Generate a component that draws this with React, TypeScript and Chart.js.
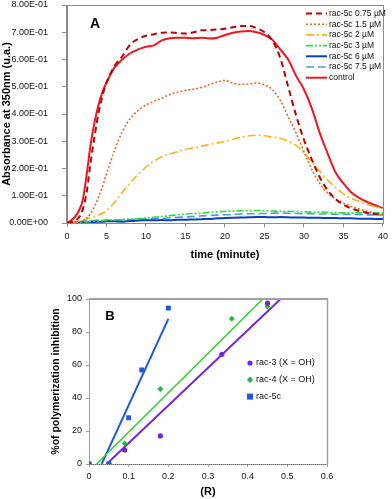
import React, { useEffect, useRef } from "react";
import { Chart, registerables } from "chart.js";

Chart.register(...registerables);

// ---------- Chart A data ----------
const timeMin = [0, 1, 1.5, 2, 2.5, 3, 3.5, 4, 4.5, 5, 6, 7, 8, 9, 10, 11, 12, 13, 14, 15, 16, 17, 18, 19, 20, 21, 22, 23, 24, 25, 26, 27, 28, 29, 30, 31, 32, 33, 34, 35, 36, 37, 38, 39, 40];

const rac5c075 = [0, 0.008, 0.02, 0.05, 0.115, 0.225, 0.32, 0.405, 0.468, 0.515, 0.575, 0.612, 0.655, 0.675, 0.687, 0.693, 0.698, 0.699, 0.697, 0.695, 0.7, 0.707, 0.708, 0.71, 0.713, 0.718, 0.723, 0.723, 0.715, 0.7, 0.67, 0.605, 0.5, 0.395, 0.305, 0.232, 0.168, 0.12, 0.088, 0.067, 0.053, 0.044, 0.038, 0.033, 0.03];
const rac5c15 = [0, 0.002, 0.004, 0.008, 0.018, 0.035, 0.062, 0.095, 0.135, 0.18, 0.265, 0.335, 0.383, 0.413, 0.433, 0.447, 0.458, 0.471, 0.48, 0.487, 0.491, 0.497, 0.507, 0.517, 0.523, 0.513, 0.509, 0.51, 0.514, 0.507, 0.49, 0.45, 0.39, 0.33, 0.262, 0.195, 0.145, 0.11, 0.089, 0.073, 0.061, 0.051, 0.043, 0.036, 0.031];
const rac5c2 = [0, 0.004, 0.007, 0.011, 0.015, 0.02, 0.025, 0.03, 0.036, 0.045, 0.075, 0.112, 0.148, 0.178, 0.205, 0.227, 0.243, 0.253, 0.262, 0.27, 0.276, 0.282, 0.288, 0.294, 0.299, 0.307, 0.315, 0.32, 0.322, 0.32, 0.315, 0.311, 0.3, 0.285, 0.258, 0.224, 0.19, 0.158, 0.13, 0.107, 0.09, 0.079, 0.068, 0.06, 0.054];
const rac5c3 = [0, 0.002, 0.003, 0.004, 0.005, 0.006, 0.007, 0.008, 0.009, 0.01, 0.011, 0.013, 0.014, 0.016, 0.018, 0.021, 0.024, 0.027, 0.03, 0.033, 0.035, 0.036, 0.039, 0.041, 0.043, 0.044, 0.045, 0.045, 0.046, 0.045, 0.044, 0.043, 0.043, 0.042, 0.041, 0.04, 0.04, 0.039, 0.038, 0.037, 0.037, 0.037, 0.036, 0.037, 0.037];
const rac5c6 = [0, 0.002, 0.003, 0.003, 0.004, 0.004, 0.004, 0.005, 0.005, 0.006, 0.006, 0.005, 0.007, 0.009, 0.01, 0.01, 0.011, 0.01, 0.012, 0.012, 0.013, 0.014, 0.015, 0.017, 0.018, 0.019, 0.02, 0.021, 0.022, 0.022, 0.021, 0.022, 0.021, 0.02, 0.02, 0.019, 0.019, 0.018, 0.018, 0.017, 0.017, 0.016, 0.016, 0.015, 0.015];
const rac5c75 = [0, 0.004, 0.005, 0.007, 0.008, 0.009, 0.009, 0.01, 0.01, 0.011, 0.011, 0.012, 0.013, 0.014, 0.015, 0.016, 0.017, 0.019, 0.021, 0.022, 0.024, 0.026, 0.027, 0.029, 0.03, 0.031, 0.033, 0.034, 0.034, 0.035, 0.036, 0.037, 0.036, 0.035, 0.034, 0.034, 0.033, 0.033, 0.032, 0.032, 0.031, 0.031, 0.03, 0.03, 0.03];
const controlA = [0, 0.022, 0.045, 0.085, 0.18, 0.29, 0.372, 0.435, 0.482, 0.515, 0.57, 0.6, 0.623, 0.637, 0.647, 0.652, 0.67, 0.678, 0.68, 0.68, 0.678, 0.68, 0.677, 0.68, 0.69, 0.698, 0.703, 0.705, 0.7, 0.69, 0.672, 0.637, 0.6, 0.54, 0.49, 0.42, 0.33, 0.255, 0.185, 0.145, 0.112, 0.092, 0.077, 0.065, 0.055];

const seriesLabelsA = ["rac-5c 0.75 µM", "rac-5c 1.5 µM", "rac-5c 2 µM", "rac-5c 3 µM", "rac-5c 6 µM", "rac-5c 7.5 µM", "control"];
const yTickLabelsA = ["0.00E+00", "1.00E-01", "2.00E-01", "3.00E-01", "4.00E-01", "5.00E-01", "6.00E-01", "7.00E-01", "8.00E-01"];

// ---------- Chart B data ----------
const rac3X = [0, 0.05, 0.09, 0.18, 0.335, 0.45];
const rac3Y = [0, 0, 8.5, 17, 66.5, 97.5];
const rac4X = [0, 0.05, 0.09, 0.18, 0.36, 0.45];
const rac4Y = [0, 0, 12.5, 45.5, 88, 95.5];
const rac5cX = [0, 0.05, 0.1, 0.133, 0.2];
const rac5cY = [0, 0, 28, 57, 94.5];
// trend line end points
const trend3X = [0.0445, 0.483];
const trend3Y = [0, 100];
const trend4X = [0.019, 0.438];
const trend4Y = [0, 100];
const trend5cX = [0.032, 0.2];
const trend5cY = [0, 88];

const seriesLabelsB = ["rac-3 (X = OH)", "rac-4 (X = OH)", "rac-5c"];
const xTickLabelsB = ["0", "0.1", "0.2", "0.3", "0.4", "0.5", "0.6"];

const FONT = "'Liberation Sans', Arial, sans-serif";

const zip = (xs: number[], ys: number[]) => xs.map((x, i) => ({ x, y: ys[i] }));

export default function App() {
  const refA = useRef<HTMLCanvasElement | null>(null);
  const refB = useRef<HTMLCanvasElement | null>(null);

  useEffect(() => {
    document.body.style.margin = "0";
    const styleA = [
      { color: "#C00000", width: 2, dash: [6, 4] },
      { color: "#F5691E", width: 1.6, dash: [2, 2] },
      { color: "#FFB01A", width: 1.6, dash: [8, 3, 2, 3] },
      { color: "#2EE02E", width: 1.6, dash: [7, 2, 2, 2, 2, 2] },
      { color: "#0B3DBF", width: 2, dash: [] },
      { color: "#4C9BE8", width: 1.6, dash: [8, 4] },
      { color: "#F5141E", width: 2, dash: [] },
    ];
    const valuesA = [rac5c075, rac5c15, rac5c2, rac5c3, rac5c6, rac5c75, controlA];

    const frameA = {
      id: "frameA",
      afterDatasetsDraw(chart: any) {
        const { ctx, chartArea: a } = chart;
        ctx.save();
        ctx.strokeStyle = "#8C8C8C";
        ctx.lineWidth = 1;
        ctx.strokeRect(Math.round(a.left) - 0.5, Math.round(a.top) + 0.5, Math.round(a.right - a.left) + 1, Math.round(a.bottom - a.top));
        ctx.restore();
      },
      afterDraw(chart: any) {
        const ctx = chart.ctx;
        ctx.save();
        ctx.fillStyle = "#000";
        ctx.font = `bold 14px ${FONT}`;
        ctx.textAlign = "center";
        ctx.textBaseline = "middle";
        ctx.fillText("A", 95, 24);
        chart.data.datasets.forEach((ds: any, i: number) => {
          const y = 13.5 + i * 10.7;
          ctx.strokeStyle = ds.borderColor;
          ctx.lineWidth = ds.borderWidth;
          ctx.setLineDash(ds.borderDash || []);
          ctx.beginPath();
          ctx.moveTo(306, y);
          ctx.lineTo(327, y);
          ctx.stroke();
          ctx.setLineDash([]);
          ctx.fillStyle = "#111";
          ctx.font = `8.5px ${FONT}`;
          ctx.textAlign = "left";
          ctx.fillText(ds.label, 329, y);
        });
        ctx.restore();
      },
    };

    const chartA = new Chart(refA.current as HTMLCanvasElement, {
      type: "line",
      data: {
        datasets: seriesLabelsA.map((label, i) => ({
          label,
          data: zip(timeMin, valuesA[i]),
          borderColor: styleA[i].color,
          borderWidth: styleA[i].width,
          borderDash: styleA[i].dash,
          pointRadius: 0,
          fill: false,
          cubicInterpolationMode: "monotone",
        })),
      },
      options: {
        animation: false,
        responsive: false,
        maintainAspectRatio: false,
        layout: { padding: { top: 5, right: 6, left: 0, bottom: 0 } },
        plugins: { legend: { display: false }, tooltip: { enabled: false } },
        scales: {
          x: {
            type: "linear",
            min: 0,
            max: 40,
            ticks: { stepSize: 5, padding: 4, maxRotation: 0, color: "#111", font: { family: FONT, size: 9 } },
            grid: { drawOnChartArea: false, drawTicks: true, tickLength: 4, color: "#8C8C8C" },
            border: { color: "#8C8C8C" },
            title: { display: true, text: "time (minute)", color: "#000", font: { family: FONT, size: 11, weight: "bold" }, padding: { top: 0, bottom: 3 } },
            afterFit: (s: any) => { s.height = 42; },
          },
          y: {
            type: "linear",
            min: 0,
            max: 0.8,
            ticks: { stepSize: 0.1, padding: 14, color: "#111", font: { family: FONT, size: 9 }, callback: (v: any) => yTickLabelsA[Math.round(Number(v) * 10)] },
            grid: { drawOnChartArea: false, drawTicks: true, tickLength: 5, color: "#8C8C8C" },
            border: { color: "#8C8C8C" },
            title: { display: true, text: "Absorbance at 350nm (u.a.)", color: "#000", font: { family: FONT, size: 11, weight: "bold" }, padding: { top: 0, bottom: 0 } },
            afterFit: (s: any) => { s.width = 67; s.paddingTop = 5; s.paddingBottom = 5; },
          },
        },
      } as any,
      plugins: [frameA],
    });

    const frameB = {
      id: "frameB",
      afterDatasetsDraw(chart: any) {
        const { ctx, chartArea: a, scales } = chart;
        ctx.save();
        ctx.strokeStyle = "#A0A0A0";
        ctx.lineWidth = 2;
        ctx.beginPath();
        ctx.moveTo(a.left, Math.round(a.top));
        ctx.lineTo(a.right + 1, Math.round(a.top));
        ctx.stroke();
        ctx.lineWidth = 1.5;
        ctx.beginPath();
        ctx.moveTo(Math.round(a.right) + 0.5, a.top);
        ctx.lineTo(Math.round(a.right) + 0.5, a.bottom);
        ctx.stroke();
        const y0 = Math.round(scales.y.getPixelForValue(0)) + 0.5;
        ctx.strokeStyle = "#3A6FE0";
        ctx.lineWidth = 1;
        ctx.setLineDash([1, 1]);
        ctx.beginPath();
        ctx.moveTo(a.left, y0);
        ctx.lineTo(a.right, y0);
        ctx.stroke();
        ctx.restore();
      },
      afterDraw(chart: any) {
        const ctx = chart.ctx;
        ctx.save();
        ctx.fillStyle = "#000";
        ctx.font = `bold 13px ${FONT}`;
        ctx.textAlign = "center";
        ctx.textBaseline = "middle";
        ctx.fillText("B", 110, 51);
        chart.data.datasets.slice(0, 3).forEach((ds: any, i: number) => {
          const y = 98 + i * 16.8;
          const x = 250;
          ctx.fillStyle = ds.backgroundColor;
          ctx.beginPath();
          if (ds.pointStyle === "circle") {
            ctx.arc(x, y, 2.6, 0, Math.PI * 2);
          } else if (ds.pointStyle === "rectRot") {
            ctx.moveTo(x, y - 3.2);
            ctx.lineTo(x + 3.2, y);
            ctx.lineTo(x, y + 3.2);
            ctx.lineTo(x - 3.2, y);
            ctx.closePath();
          } else {
            ctx.rect(x - 3, y - 3, 6, 6);
          }
          ctx.fill();
          ctx.fillStyle = "#111";
          ctx.font = `9px ${FONT}`;
          ctx.textAlign = "left";
          ctx.fillText(ds.label, 256, y);
        });
        ctx.restore();
      },
    };

    const chartB = new Chart(refB.current as HTMLCanvasElement, {
      type: "scatter",
      data: {
        datasets: [
          { label: seriesLabelsB[0], data: zip(rac3X, rac3Y), pointStyle: "circle", pointRadius: 2.6, backgroundColor: "#7226DC", borderWidth: 0, order: 1 },
          { label: seriesLabelsB[1], data: zip(rac4X, rac4Y), pointStyle: "rectRot", pointRadius: 3, backgroundColor: "#22B84A", borderWidth: 0, order: 1 },
          { label: seriesLabelsB[2], data: zip(rac5cX, rac5cY), pointStyle: "rect", pointRadius: 3.5, backgroundColor: "#1E5BE0", borderWidth: 0, order: 0 },
          { label: "trend rac-3", data: zip(trend3X, trend3Y), showLine: true, pointRadius: 0, borderColor: "#7226DC", borderWidth: 2, order: 2 },
          { label: "trend rac-4", data: zip(trend4X, trend4Y), showLine: true, pointRadius: 0, borderColor: "#33CC33", borderWidth: 1.5, order: 2 },
          { label: "trend rac-5c", data: zip(trend5cX, trend5cY), showLine: true, pointRadius: 0, borderColor: "#1A5CD8", borderWidth: 2, order: 2 },
        ],
      },
      options: {
        animation: false,
        responsive: false,
        maintainAspectRatio: false,
        layout: { padding: { top: 34, right: 65, left: 0, bottom: 0 } },
        plugins: { legend: { display: false }, tooltip: { enabled: false } },
        scales: {
          x: {
            type: "linear",
            min: 0,
            max: 0.6,
            ticks: { stepSize: 0.1, padding: 4, maxRotation: 0, color: "#111", font: { family: FONT, size: 9 }, callback: (v: any) => xTickLabelsB[Math.round(Number(v) * 10)] },
            grid: { drawOnChartArea: false, drawTicks: true, tickLength: 3, color: "#A0A0A0" },
            border: { color: "#A0A0A0" },
            title: { display: true, text: "(R)", color: "#000", font: { family: FONT, size: 11, weight: "bold" }, padding: { top: 0, bottom: 0 } },
            afterFit: (s: any) => { s.height = 35; },
          },
          y: {
            type: "linear",
            min: 0,
            max: 100,
            ticks: { stepSize: 20, padding: 4, color: "#111", font: { family: FONT, size: 9 } },
            grid: { drawOnChartArea: false, drawTicks: true, tickLength: 3, color: "#A0A0A0" },
            border: { color: "#A0A0A0" },
            title: { display: true, text: "%of polymerization inhibition", color: "#000", font: { family: FONT, size: 10.5, weight: "bold" }, padding: { top: 50, bottom: 0 } },
            afterFit: (s: any) => { s.width = 89; },
          },
        },
      } as any,
      plugins: [frameB],
    });

    return () => {
      chartA.destroy();
      chartB.destroy();
    };
  }, []);

  return (
    <div style={{ position: "relative", width: 392, height: 499, background: "#fff" }}>
      <canvas ref={refA} width={392} height={265} style={{ position: "absolute", left: 0, top: 0, width: 392, height: 265 }} />
      <canvas ref={refB} width={392} height={234} style={{ position: "absolute", left: 0, top: 265, width: 392, height: 234 }} />
    </div>
  );
}
